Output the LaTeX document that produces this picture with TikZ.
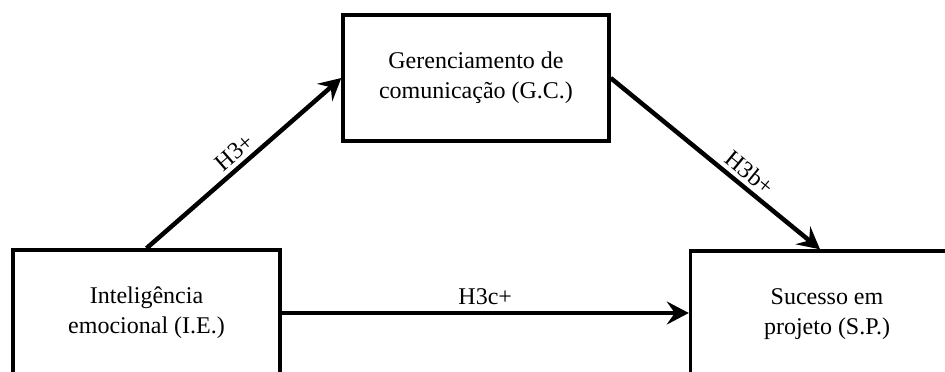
\documentclass[tikz,border=0pt]{standalone}
\usepackage{fontspec}
\setmainfont{Liberation Serif}
\usetikzlibrary{arrows.meta}
\begin{document}
\begin{tikzpicture}[x=1pt,y=-1pt,
  construct/.style={draw, line width=3.4pt, minimum height=126pt, align=center,
    inner sep=0pt, font=\fontsize{24}{30}\selectfont},
  path/.style={line width=4.5pt, -{Stealth[length=22pt,width=23pt,inset=8pt]}},
  hyp/.style={font=\fontsize{24}{30}\selectfont, inner sep=4pt}]
  \useasboundingbox (0,0) rectangle (945,372);
  \clip (0,0) rectangle (945,372);
  % constructs of the mediation model
  \node[construct, minimum width=267pt] (ie) at (146.5,313) {Inteligência\\emocional (I.E.)};
  \node[construct, minimum width=266pt] (gc) at (476,78) {Gerenciamento de\\comunicação (G.C.)};
  \node[construct, minimum width=273pt] (sp) at (827,314) {Sucesso em\\projeto (S.P.)};
  % hypothesised paths
  \draw[path] (ie.north) -- (gc.west) node[hyp, midway, sloped, above] {H3+};
  \draw[path] (gc.east) -- ([xshift=-7pt]sp.north) node[hyp, midway, sloped, above, pos=0.62] {H3b+};
  \draw[path] (ie.east) -- (ie.east -| sp.west) node[hyp, midway, above, inner sep=6pt] {H3c+};
\end{tikzpicture}
\end{document}
